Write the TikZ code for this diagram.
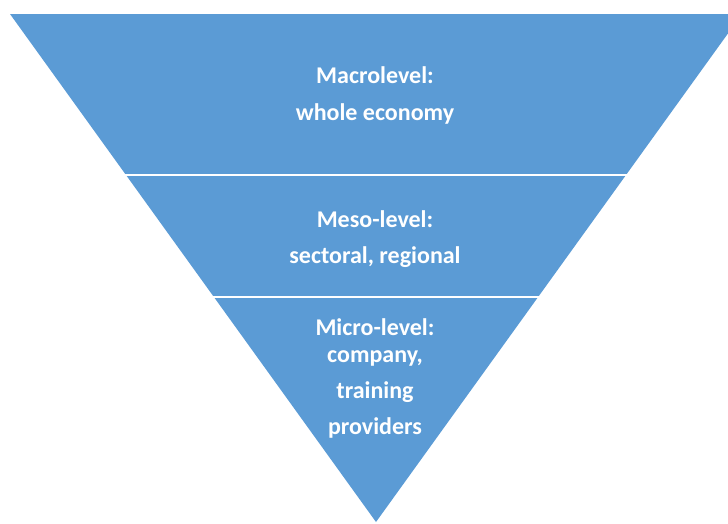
\documentclass[tikz,border=0pt]{standalone}
\usepackage{fontspec}
\setmainfont{Carlito}
\definecolor{levelblue}{HTML}{5B9BD5}

\begin{document}
\begin{tikzpicture}[x=1pt, y=-1pt,
  level/.style={text=white, font=\bfseries\fontsize{24}{27}\selectfont, align=center, inner sep=0pt}]
  \useasboundingbox (0,0) rectangle (728,523);
  \coordinate (tl) at (10,14);
  \coordinate (tr) at (742,14);
  \coordinate (apex) at (376,522);
  \fill[levelblue] (tl) -- (tr) -- (apex) -- cycle;

  % white gaps between the levels
  \foreach \i/\y in {1/175, 2/297}{
    \pgfmathsetmacro{\w}{(522-\y)*0.7205+2}
    \coordinate (l\i) at (376-\w, \y);
    \coordinate (r\i) at (376+\w, \y);
    \draw[white, line width=2pt] (l\i) -- (r\i);
  }

  \node[level] (macro) at (375,95) {Macrolevel:\\[10pt]whole economy};
  \node[level] (meso) at (375,239) {Meso-level:\\[9pt]sectoral, regional};
  \node[level] (micro) at (375,378) {Micro-level:\\company,\\[9pt]training\\[9pt]providers};
\end{tikzpicture}
\end{document}
